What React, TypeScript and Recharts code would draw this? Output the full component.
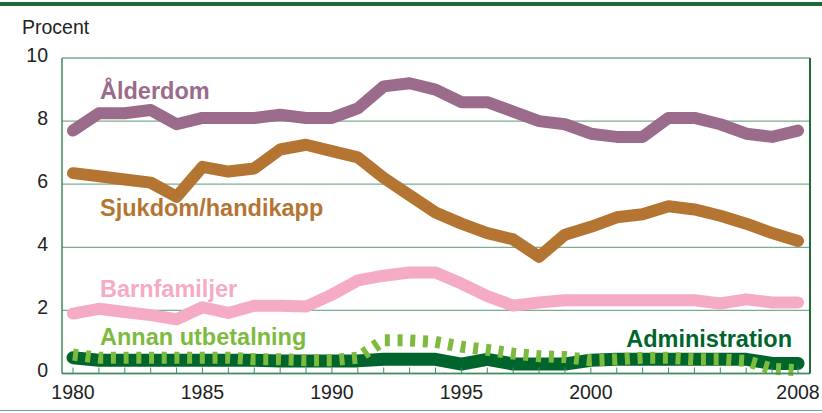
import React from "react";
import {
  LineChart,
  Line,
  XAxis,
  YAxis,
  CartesianGrid,
} from "recharts";

const years = [
  1980, 1981, 1982, 1983, 1984, 1985, 1986, 1987, 1988, 1989,
  1990, 1991, 1992, 1993, 1994, 1995, 1996, 1997, 1998, 1999,
  2000, 2001, 2002, 2003, 2004, 2005, 2006, 2007, 2008,
];
const labeledYears = [1980, 1985, 1990, 1995, 2000, 2008];
const yTicks = [0, 2, 4, 6, 8, 10];

const alderdom = [
  7.7, 8.25, 8.25, 8.35, 7.9, 8.1, 8.1, 8.1, 8.2, 8.1,
  8.1, 8.4, 9.1, 9.2, 9.0, 8.6, 8.6, 8.3, 8.0, 7.9,
  7.6, 7.5, 7.5, 8.1, 8.1, 7.9, 7.6, 7.5, 7.7,
];
const sjukdom = [
  6.35, 6.25, 6.15, 6.05, 5.6, 6.55, 6.4, 6.5, 7.1, 7.25,
  7.05, 6.85, 6.2, 5.65, 5.1, 4.75, 4.45, 4.25, 3.7, 4.4,
  4.65, 4.95, 5.05, 5.3, 5.2, 5.0, 4.75, 4.45, 4.2,
];
const barnfamiljer = [
  1.9, 2.05, 1.95, 1.85, 1.72, 2.1, 1.92, 2.15, 2.15, 2.12,
  2.5, 2.95, 3.1, 3.2, 3.2, 2.85, 2.45, 2.15, 2.25, 2.32,
  2.32, 2.32, 2.32, 2.32, 2.32, 2.22, 2.35, 2.25, 2.25,
];
const administration = [
  0.5, 0.42, 0.42, 0.42, 0.42, 0.42, 0.42, 0.42, 0.4, 0.4,
  0.4, 0.4, 0.45, 0.45, 0.45, 0.3, 0.45, 0.3, 0.3, 0.3,
  0.42, 0.45, 0.45, 0.45, 0.45, 0.45, 0.45, 0.32, 0.32,
];
const annan = [
  0.6, 0.5, 0.5, 0.5, 0.5, 0.5, 0.5, 0.45, 0.45, 0.42,
  0.42, 0.5, 1.05, 1.05, 1.0, 0.85, 0.75, 0.63, 0.55, 0.52,
  0.42, 0.45, 0.5, 0.5, 0.45, 0.45, 0.4, 0.15, 0.1,
];

const data = years.map((year, i) => ({
  year,
  alderdom: alderdom[i],
  sjukdom: sjukdom[i],
  barnfamiljer: barnfamiljer[i],
  administration: administration[i],
  annan: annan[i],
}));

const FONT = "'Liberation Sans', Arial, Helvetica, sans-serif";
const PURPLE = "#9b6b8b";
const BROWN = "#b47533";
const PINK = "#f5aac6";
const DARK_GREEN = "#00652d";
const LIGHT_GREEN = "#7dbb3f";
const GRID = "#7aae8c";
const AXIS = "#3f8d5a";

const XTick = ({ x, y, payload }: any) => {
  const show = labeledYears.includes(payload.value);
  return (
    <g>
      <line x1={x} x2={x} y1={y} y2={y - 6} stroke={AXIS} strokeWidth={1} />
      {show && (
        <text
          x={x}
          y={y + 19}
          dy="0.355em"
          textAnchor="middle"
          fill="#222"
          fontSize={19.5}
          fontFamily={FONT}
        >
          {payload.value}
        </text>
      )}
    </g>
  );
};

const YTick = ({ x, y, payload }: any) => (
  <text
    x={x}
    y={y - 3}
    dy="0.355em"
    textAnchor="end"
    fill="#222"
    fontSize={19.5}
    fontFamily={FONT}
  >
    {payload.value}
  </text>
);

const labelStyle = { fontFamily: FONT, fontWeight: 700, fontSize: 23.5 };

export default function App() {
  return (
    <div style={{ position: "absolute", left: 0, top: 0, width: 822, height: 413, background: "#fff" }}>
      <LineChart
        width={822}
        height={413}
        data={data}
        margin={{ top: 58, right: 0, bottom: 0, left: 0 }}
      >
        <CartesianGrid horizontal vertical={false} stroke={GRID} strokeWidth={1.3} />
        <XAxis
          dataKey="year"
          type="number"
          domain={[1980, 2008]}
          ticks={years}
          interval={0}
          height={39.5}
          padding={{ left: 11, right: 12 }}
          axisLine={{ stroke: AXIS, strokeWidth: 1.5 }}
          tickLine={false}
          tickSize={0}
          tickMargin={0}
          tick={<XTick />}
        />
        <YAxis
          domain={[0, 10]}
          ticks={yTicks}
          width={62}
          axisLine={{ stroke: AXIS, strokeWidth: 1.5 }}
          tickLine={false}
          tickSize={0}
          tickMargin={14}
          tick={<YTick />}
        />
        <YAxis
          yAxisId="right"
          orientation="right"
          domain={[0, 10]}
          width={12}
          tick={false}
          tickLine={false}
          axisLine={{ stroke: "#1c6d36", strokeWidth: 2 }}
        />
        <Line
          dataKey="alderdom"
          stroke={PURPLE}
          strokeWidth={12}
          strokeLinecap="round"
          strokeLinejoin="round"
          dot={false}
          activeDot={false}
          isAnimationActive={false}
        />
        <Line
          dataKey="sjukdom"
          stroke={BROWN}
          strokeWidth={12}
          strokeLinecap="round"
          strokeLinejoin="round"
          dot={false}
          activeDot={false}
          isAnimationActive={false}
        />
        <Line
          dataKey="barnfamiljer"
          stroke={PINK}
          strokeWidth={12}
          strokeLinecap="round"
          strokeLinejoin="round"
          dot={false}
          activeDot={false}
          isAnimationActive={false}
        />
        <Line
          dataKey="administration"
          stroke={DARK_GREEN}
          strokeWidth={13}
          strokeLinecap="round"
          strokeLinejoin="round"
          dot={false}
          activeDot={false}
          isAnimationActive={false}
        />
        <Line
          dataKey="annan"
          stroke={LIGHT_GREEN}
          strokeWidth={12}
          strokeDasharray="5 7.7"
          strokeLinecap="butt"
          dot={false}
          activeDot={false}
          isAnimationActive={false}
        />
      </LineChart>
      <svg
        width={822}
        height={413}
        style={{ position: "absolute", left: 0, top: 0, pointerEvents: "none" }}
      >
        <rect x={0} y={2} width={822} height={4} fill="#1b6b37" />
        <line x1={0} x2={822} y1={410.5} y2={410.5} stroke="#6fa983" strokeWidth={1.2} />
        <text x={22} y={34} fontSize={19.5} fontFamily={FONT} fill="#222">
          Procent
        </text>
        <text x={100} y={99} fill={PURPLE} style={labelStyle}>
          Ålderdom
        </text>
        <text x={100} y={216} fill={BROWN} style={labelStyle}>
          Sjukdom/handikapp
        </text>
        <text x={100} y={297} fill={PINK} style={labelStyle}>
          Barnfamiljer
        </text>
        <text x={100} y={345} fill={LIGHT_GREEN} style={labelStyle}>
          Annan utbetalning
        </text>
        <text x={792} y={347} textAnchor="end" fill={DARK_GREEN} style={labelStyle}>
          Administration
        </text>
      </svg>
    </div>
  );
}
